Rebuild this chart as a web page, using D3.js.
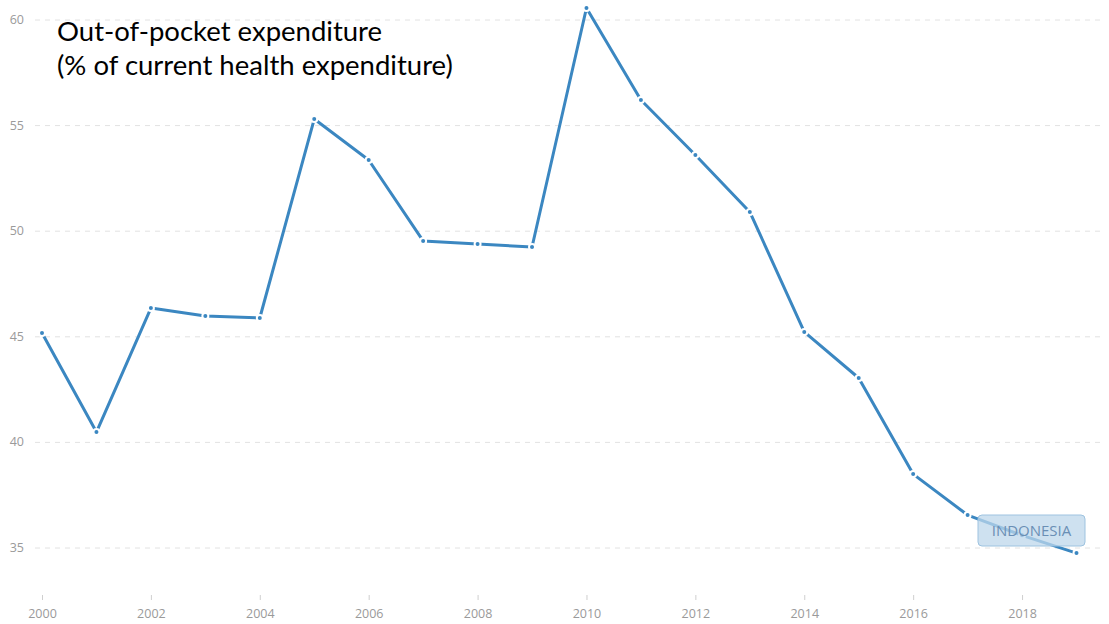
<!DOCTYPE html>
<html>
<head>
<meta charset="utf-8">
<script src="https://cdn.jsdelivr.net/npm/d3@7"></script>
<style>
  body { margin: 0; background: #fff; }
</style>
</head>
<body>
<script>
const years = [2000, 2001, 2002, 2003, 2004, 2005, 2006, 2007, 2008, 2009,
               2010, 2011, 2012, 2013, 2014, 2015, 2016, 2017, 2018, 2019]
const oop = [45.18, 40.49, 46.36, 45.98, 45.89, 55.31, 53.37, 49.54, 49.39, 49.25,
             60.57, 56.21, 53.61, 50.91, 45.23, 43.05, 38.5, 36.56, 35.6, 34.76]
const yTicks = [35, 40, 45, 50, 55, 60]
const xTicks = [2000, 2002, 2004, 2006, 2008, 2010, 2012, 2014, 2016, 2018]
const titleLines = ['Out-of-pocket expenditure', '(% of current health expenditure)']
const seriesName = 'INDONESIA'

const WIDTH = 1109
const HEIGHT = 624

const svg = d3.select('body').append('svg')
  .attr('width', WIDTH)
  .attr('height', HEIGHT)

const x = d3.scaleLinear().domain([2000, 2019]).range([42, 1076.5])
const y = d3.scaleLinear().domain([35, 60]).range([548, 20])

// grid lines + y labels
const grid = svg.append('g')
grid.selectAll('line')
  .data(yTicks)
  .enter()
  .append('line')
  .attr('x1', 35)
  .attr('x2', 1105)
  .attr('y1', d => y(d))
  .attr('y2', d => y(d))
  .attr('stroke', '#e2e2e2')
  .attr('stroke-width', 1)
  .attr('stroke-dasharray', '5,5')

grid.selectAll('text')
  .data(yTicks)
  .enter()
  .append('text')
  .attr('x', 24)
  .attr('y', d => y(d) + 4)
  .attr('text-anchor', 'end')
  .attr('font-family', 'Open Sans, sans-serif')
  .attr('font-size', 12.5)
  .attr('fill', '#9a9a9a')
  .text(d => d)

// x axis
const xAxis = d3.axisBottom(x).tickValues(xTicks).tickFormat(d3.format('d')).tickSize(5).tickPadding(9)
const gx = svg.append('g')
  .attr('transform', 'translate(0,595)')
  .call(xAxis)
gx.select('.domain').remove()
gx.selectAll('.tick line').attr('stroke', '#cfcfcf')
gx.selectAll('.tick text')
  .attr('font-family', 'Open Sans, sans-serif')
  .attr('font-size', 12.5)
  .attr('fill', '#9a9a9a')

// the line
const pts = years.map((d, i) => ({ year: d, value: oop[i] }))
const line = d3.line().x(d => x(d.year)).y(d => y(d.value))

svg.append('path')
  .datum(pts)
  .attr('d', line)
  .attr('fill', 'none')
  .attr('stroke', '#3b87c1')
  .attr('stroke-width', 3)
  .attr('stroke-linejoin', 'round')

svg.selectAll('circle.pt')
  .data(pts)
  .enter()
  .append('circle')
  .attr('class', 'pt')
  .attr('cx', d => x(d.year))
  .attr('cy', d => y(d.value))
  .attr('r', 3)
  .attr('fill', '#3b87c1')
  .attr('stroke', '#fff')
  .attr('stroke-width', 2)

// series label box
const lab = svg.append('g')
lab.append('rect')
  .attr('x', 978)
  .attr('y', 515)
  .attr('width', 107)
  .attr('height', 31)
  .attr('rx', 4)
  .attr('fill', 'rgba(190,215,235,0.75)')
  .attr('stroke', '#9ec3e0')
lab.append('text')
  .attr('x', 1031.5)
  .attr('y', 536)
  .attr('text-anchor', 'middle')
  .attr('font-family', 'Open Sans, sans-serif')
  .attr('font-size', 15)
  .attr('fill', '#6a8fb5')
  .text(seriesName)

// title
svg.selectAll('text.title')
  .data(titleLines)
  .enter()
  .append('text')
  .attr('class', 'title')
  .attr('x', 57)
  .attr('y', (d, i) => 41 + i * 34)
  .attr('font-family', 'Lato, sans-serif')
  .attr('font-size', 27.5)
  .attr('fill', '#000')
  .text(d => d)
</script>
</body>
</html>
